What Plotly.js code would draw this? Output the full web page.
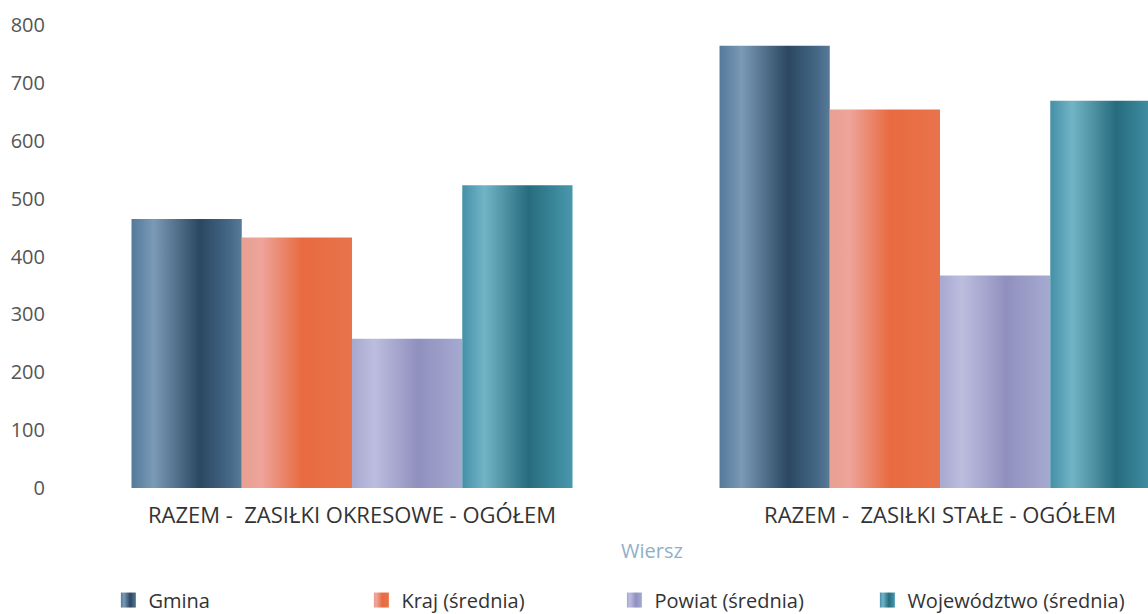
<!DOCTYPE html>
<html>
<head>
<meta charset="utf-8">
<script src="https://cdn.plot.ly/plotly-3.0.1.min.js"></script>
<style>
html,body{margin:0;padding:0;background:#fff;}
#chart{width:1148px;height:614px;}
</style>
</head>
<body>
<div id="chart"></div>
<script>
// Data
const categories = ["RAZEM -  ZASIŁKI OKRESOWE - OGÓŁEM", "RAZEM -  ZASIŁKI STAŁE - OGÓŁEM"];
const seriesNames = ["Gmina", "Kraj (średnia)", "Powiat (średnia)", "Województwo (średnia)"];
const gmina = [465, 764];
const kraj = [433, 654];
const powiat = [258, 367];
const wojewodztwo = [523, 669];
const yTicks = [0, 100, 200, 300, 400, 500, 600, 700, 800];
const xAxisTitle = "Wiersz";

const seriesValues = [gmina, kraj, powiat, wojewodztwo];
const baseColors = ["#3d5f7d", "#e8734f", "#9c9cc8", "#3a8599"];
const gradStops = [
  [[0,"#54799a"],[0.2,"#7a9ab6"],[0.62,"#2b4762"],[0.9,"#466a88"],[1,"#587b98"]],
  [[0,"#e8a092"],[0.18,"#eea49a"],[0.55,"#e86a40"],[1,"#e8744c"]],
  [[0,"#a8a8d0"],[0.2,"#bdbddf"],[0.6,"#9090bf"],[1,"#a6aad0"]],
  [[0,"#4590a8"],[0.2,"#72b4c6"],[0.6,"#266c7e"],[1,"#4a98ad"]]
];

const traces = seriesNames.map((name, i) => ({
  type: "bar",
  name: name,
  x: categories,
  y: seriesValues[i],
  marker: {color: baseColors[i], line: {width: 0}},
  hoverinfo: "x+y+name"
}));

const layout = {
  width: 1148, height: 614,
  margin: {l: 100, r: 0, t: 25, b: 126, autoexpand: false},
  paper_bgcolor: "#ffffff",
  plot_bgcolor: "#ffffff",
  font: {family: "Open Sans, sans-serif", color: "#444"},
  barmode: "group",
  bargap: 0.25,
  bargroupgap: 0,
  showlegend: true,
  legend: {
    orientation: "h",
    x: 0.008, xanchor: "left",
    y: -0.242, yanchor: "middle",
    entrywidth: 208, entrywidthmode: "pixels",
    font: {size: 20, color: "#333"},
    itemwidth: 30,
    traceorder: "normal"
  },
  xaxis: {
    type: "category",
    range: [-0.4286, 1.3537],
    showgrid: false, zeroline: false, showline: false,
    ticks: "",
    ticklabelstandoff: 12,
    tickfont: {size: 22, color: "#333"}
  },
  yaxis: {
    range: [0, 800],
    tickvals: yTicks,
    ticktext: yTicks.map(String),
    showgrid: false, zeroline: false, showline: false,
    ticks: "",
    ticklabelstandoff: 54,
    tickfont: {size: 20, color: "#555"}
  },
  annotations: [{
    text: xAxisTitle,
    xref: "paper", yref: "paper",
    x: 0.527, xanchor: "center",
    y: -0.134, yanchor: "middle",
    showarrow: false,
    font: {size: 20, color: "#8fb0c8"}
  }]
};

function applyGradients(gd) {
  const svg = gd.querySelector(".main-svg");
  let defs = svg.querySelector("defs");
  if (!defs) { defs = document.createElementNS("http://www.w3.org/2000/svg", "defs"); svg.insertBefore(defs, svg.firstChild); }
  gradStops.forEach((stops, i) => {
    const id = "barGrad" + i;
    if (document.getElementById(id)) return;
    const g = document.createElementNS("http://www.w3.org/2000/svg", "linearGradient");
    g.setAttribute("id", id);
    g.setAttribute("x1", "0"); g.setAttribute("y1", "0");
    g.setAttribute("x2", "1"); g.setAttribute("y2", "0");
    stops.forEach(s => {
      const st = document.createElementNS("http://www.w3.org/2000/svg", "stop");
      st.setAttribute("offset", s[0]);
      st.setAttribute("stop-color", s[1]);
      g.appendChild(st);
    });
    defs.appendChild(g);
  });
  const barTraces = gd.querySelectorAll(".barlayer .trace.bars");
  barTraces.forEach((t, i) => {
    t.querySelectorAll("path").forEach(p => { p.style.fill = "url(#barGrad" + i + ")"; });
  });
  const legTraces = gd.querySelectorAll(".legend .traces");
  legTraces.forEach((t, i) => {
    t.querySelectorAll(".legendpoints path").forEach(p => {
      p.setAttribute("d", "M-7.5,-7.5H7.5V7.5H-7.5Z");
      p.style.fill = "url(#barGrad" + i + ")";
    });
  });
  gd.querySelectorAll(".legend [clip-path]").forEach(el => el.removeAttribute("clip-path"));
}

const gd = document.getElementById("chart");
Plotly.newPlot(gd, traces, layout, {displayModeBar: false, staticPlot: true}).then(() => applyGradients(gd));
</script>
</body>
</html>
